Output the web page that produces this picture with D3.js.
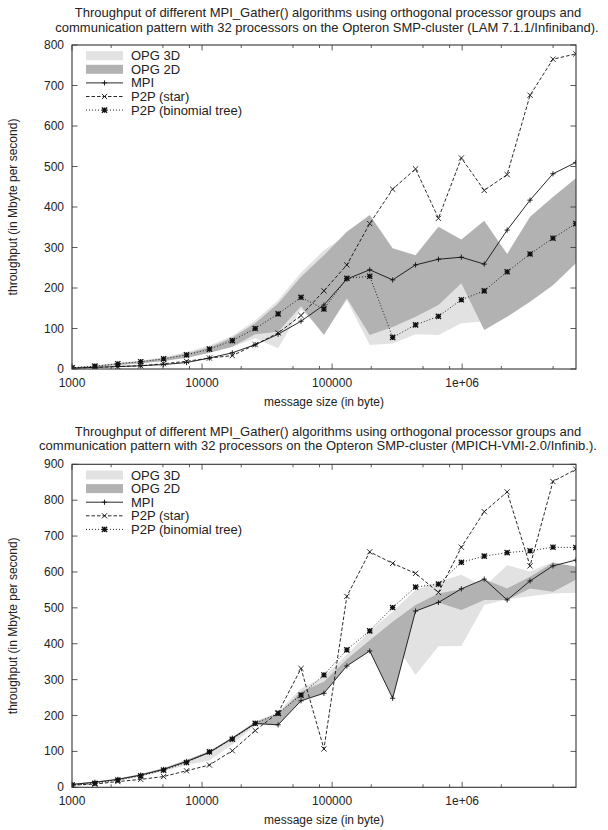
<!DOCTYPE html>
<html>
<head>
<meta charset="utf-8">
<script src="https://cdn.jsdelivr.net/npm/d3@7"></script>
<style>
  html, body { margin: 0; padding: 0; background: #fff; }
  svg { display: block; }
  text { font-family: "Liberation Sans", Arial, Helvetica, sans-serif; fill: #222; }
</style>
</head>
<body>
<svg id="chart" width="608" height="830"></svg>
<script>
// ---------- data ----------
const msgSizes = [1000, 1500, 2250, 3375, 5063, 7594, 11391, 17086, 25629, 38443, 57665, 86498,
  129746, 194620, 291929, 437894, 656841, 985261, 1477892, 2216838, 3325257, 4987885, 7481828];

const xMajorTicks = [1000, 10000, 100000, 1000000];
const xMajorLabels = ["1000", "10000", "100000", "1e+06"];
const xMinorTicks = [2000, 5000, 8000, 20000, 50000, 80000, 200000, 500000, 800000, 2000000, 5000000];

const lamYTicks = [0, 100, 200, 300, 400, 500, 600, 700, 800];
const mpichYTicks = [0, 100, 200, 300, 400, 500, 600, 700, 800, 900];

const seriesNames = ["OPG 3D", "OPG 2D", "MPI", "P2P (star)", "P2P (binomial tree)"];

const lamTitle = ["Throughput of different MPI_Gather() algorithms using orthogonal processor groups and",
  "communication pattern with 32 processors on the Opteron SMP-cluster (LAM 7.1.1/Infiniband)."];
const mpichTitle = ["Throughput of different MPI_Gather() algorithms using orthogonal processor groups and",
  "communication pattern with 32 processors on the Opteron SMP-cluster (MPICH-VMI-2.0/Infinib.)."];

// LAM 7.1.1 (top)
const lamMPI = [2, 4, 6, 8, 11, 16, 27, 40, 60, 86, 118, 158, 222, 245, 220, 257, 271, 276, 259, 343, 417, 482, 510];
const lamStar = [2, 4, 6, 8, 13, 19, 27, 33, 60, 89, 132, 193, 257, 359, 444, 494, 372, 521, 441, 480, 676, 765, 778];
const lamBinomial = [3, 7, 13, 18, 25, 35, 49, 70, 100, 136, 177, 148, 224, 229, 78, 109, 130, 171, 193, 240, 284, 323, 359];
const lamOpg2dLow = [2, 5, 10, 14, 20, 28, 40, 55, 86, 92, 155, 84, 175, 84, 104, 129, 158, 212, 96, 129, 166, 207, 261];
const lamOpg2dHigh = [4, 8, 14, 19, 27, 38, 53, 78, 113, 162, 228, 281, 339, 380, 298, 281, 351, 320, 366, 284, 376, 425, 471];
const lamOpg3dLow = [2, 5, 10, 14, 20, 28, 40, 55, 76, 51, 148, 88, 170, 59, 63, 86, 84, 113, 117, 140, 180, 220, 270];
const lamOpg3dHigh = [5, 9, 15, 21, 29, 42, 58, 82, 120, 170, 238, 293, 330, 360, 290, 270, 300, 260, 300, 270, 350, 400, 450];

// MPICH-VMI 2.0 (bottom)
const mpichMPI = [8, 14, 22, 34, 50, 72, 97, 137, 178, 174, 241, 262, 338, 380, 248, 491, 515, 553, 580, 522, 575, 617, 633];
const mpichStar = [6, 9, 16, 22, 30, 46, 62, 102, 158, 208, 331, 107, 532, 656, 624, 596, 543, 669, 768, 823, 617, 852, 886];
const mpichBinomial = [6, 11, 20, 32, 48, 69, 99, 134, 178, 206, 257, 313, 383, 436, 501, 558, 566, 627, 644, 654, 659, 669, 668];
const mpichOpg2dLow = [7, 13, 21, 33, 48, 70, 95, 134, 176, 174, 241, 262, 338, 380, 248, 491, 515, 494, 522, 522, 554, 545, 578];
const mpichOpg2dHigh = [10, 16, 24, 37, 53, 76, 101, 139, 182, 204, 266, 294, 357, 410, 461, 508, 540, 552, 580, 554, 587, 626, 615];
const mpichOpg3dLow = [7, 12, 19, 30, 45, 62, 75, 120, 172, 180, 245, 265, 340, 385, 410, 313, 393, 394, 508, 524, 532, 540, 542];
const mpichOpg3dHigh = [10, 16, 24, 37, 54, 77, 100, 140, 183, 210, 275, 308, 370, 434, 489, 550, 573, 592, 559, 619, 601, 628, 612];

// ---------- drawing ----------
const svg = d3.select("#chart");
svg.append("rect").attr("width", 608).attr("height", 830).attr("fill", "#fff");

const LIGHT = "#e2e2e2", DARK = "#b2b2b2", INK = "#111";
const FONT = 12, TITLE_FONT = 13, LEGEND_FONT = 13;

function markerPath(type, cx, cy, s) {
  const p = d3.path();
  if (type === "plus" || type === "star") {
    p.moveTo(cx - s, cy); p.lineTo(cx + s, cy);
    p.moveTo(cx, cy - s); p.lineTo(cx, cy + s);
  }
  if (type === "cross" || type === "star") {
    p.moveTo(cx - s, cy - s); p.lineTo(cx + s, cy + s);
    p.moveTo(cx - s, cy + s); p.lineTo(cx + s, cy - s);
  }
  return p.toString();
}

function drawChart(cfg) {
  const g = svg.append("g");
  const x = d3.scaleLog().domain([1000, 7.5e6]).range([72, 576]);
  const y = d3.scaleLinear().domain([0, cfg.yMax]).range([cfg.bottom, cfg.top]);
  const left = x.range()[0], right = x.range()[1];

  // title
  cfg.title.forEach((t, i) => {
    g.append("text").attr("x", cfg.titleX[i]).attr("y", cfg.titleY + i * 14.5)
      .attr("text-anchor", "middle").attr("dominant-baseline", "central")
      .attr("font-size", TITLE_FONT).text(t);
  });

  const clipId = "clip" + cfg.id;
  g.append("clipPath").attr("id", clipId).append("rect")
    .attr("x", left).attr("y", cfg.top).attr("width", right - left).attr("height", cfg.bottom - cfg.top);
  const plot = g.append("g").attr("clip-path", `url(#${clipId})`);

  const area = (lo, hi) => d3.area()
    .x((d, i) => x(msgSizes[i]))
    .y0((d, i) => y(lo[i]))
    .y1((d, i) => y(hi[i]))(msgSizes);

  plot.append("path").attr("d", area(cfg.o3lo, cfg.o3hi)).attr("fill", LIGHT);
  plot.append("path").attr("d", area(cfg.o2lo, cfg.o2hi)).attr("fill", DARK);

  const line = vals => d3.line().x((d, i) => x(msgSizes[i])).y((d, i) => y(vals[i]))(msgSizes);
  const series = [
    { vals: cfg.mpi, dash: null, mk: "plus" },
    { vals: cfg.star, dash: "3.5,2", mk: "cross" },
    { vals: cfg.bin, dash: "1,2", mk: "star" }
  ];
  series.forEach(s => {
    plot.append("path").attr("d", line(s.vals)).attr("fill", "none")
      .attr("stroke", INK).attr("stroke-width", 0.9)
      .attr("stroke-dasharray", s.dash);
    plot.append("g").selectAll("path").data(s.vals).join("path")
      .attr("d", (v, i) => markerPath(s.mk, x(msgSizes[i]), y(v), 2.6))
      .attr("fill", "none").attr("stroke", INK).attr("stroke-width", s.mk === "star" ? 1.3 : 0.9);
  });

  // ticks (inward, mirrored)
  const tk = g.append("g").attr("stroke", "#333").attr("stroke-width", 0.8);
  xMajorTicks.forEach(v => {
    const xx = x(v);
    tk.append("line").attr("x1", xx).attr("x2", xx).attr("y1", cfg.bottom).attr("y2", cfg.bottom - 5.5);
    tk.append("line").attr("x1", xx).attr("x2", xx).attr("y1", cfg.top).attr("y2", cfg.top + 5.5);
  });
  xMinorTicks.forEach(v => {
    const xx = x(v);
    tk.append("line").attr("x1", xx).attr("x2", xx).attr("y1", cfg.bottom).attr("y2", cfg.bottom - 3);
    tk.append("line").attr("x1", xx).attr("x2", xx).attr("y1", cfg.top).attr("y2", cfg.top + 3);
  });
  cfg.yTicks.forEach(v => {
    const yy = y(v);
    tk.append("line").attr("x1", left).attr("x2", left + 5.5).attr("y1", yy).attr("y2", yy);
    tk.append("line").attr("x1", right).attr("x2", right - 5.5).attr("y1", yy).attr("y2", yy);
  });

  // border
  g.append("rect").attr("x", left).attr("y", cfg.top).attr("width", right - left)
    .attr("height", cfg.bottom - cfg.top).attr("fill", "none").attr("stroke", "#333").attr("stroke-width", 1.1);

  // tick labels
  cfg.yTicks.forEach(v => {
    g.append("text").attr("x", left - 8).attr("y", y(v)).attr("text-anchor", "end")
      .attr("dominant-baseline", "central").attr("font-size", FONT).text(v);
  });
  xMajorTicks.forEach((v, i) => {
    g.append("text").attr("x", x(v)).attr("y", cfg.bottom + 14).attr("text-anchor", "middle")
      .attr("dominant-baseline", "central").attr("font-size", FONT).text(xMajorLabels[i]);
  });

  // axis titles
  g.append("text").attr("x", (left + right) / 2).attr("y", cfg.bottom + 33).attr("text-anchor", "middle")
    .attr("dominant-baseline", "central").attr("font-size", FONT).text("message size (in byte)");
  g.append("text").attr("transform", `translate(13,${(cfg.top + cfg.bottom) / 2}) rotate(-90)`)
    .attr("text-anchor", "middle").attr("dominant-baseline", "central").attr("font-size", FONT)
    .text("throughput (in Mbyte per second)");

  // legend
  const lg = g.append("g");
  const lx0 = 86, lx1 = 123, ltx = 131;
  seriesNames.forEach((name, i) => {
    const cy = cfg.top + 10.7 + i * 13.6;
    if (i === 0 || i === 1) {
      lg.append("rect").attr("x", lx0).attr("y", cy - 4.5).attr("width", lx1 - lx0).attr("height", 9)
        .attr("fill", i === 0 ? LIGHT : DARK);
    } else {
      const s = series[i - 2];
      lg.append("line").attr("x1", lx0).attr("x2", lx1).attr("y1", cy).attr("y2", cy)
        .attr("stroke", INK).attr("stroke-width", 0.9).attr("stroke-dasharray", s.dash);
      lg.append("path").attr("d", markerPath(s.mk, (lx0 + lx1) / 2, cy, 2.6))
        .attr("fill", "none").attr("stroke", INK).attr("stroke-width", s.mk === "star" ? 1.3 : 0.9);
    }
    lg.append("text").attr("x", ltx).attr("y", cy).attr("dominant-baseline", "central")
      .attr("font-size", LEGEND_FONT).text(name);
  });
}

drawChart({
  id: "lam", top: 45, bottom: 369, yMax: 800, yTicks: lamYTicks,
  title: lamTitle, titleX: [328, 327], titleY: 12.5,
  mpi: lamMPI, star: lamStar, bin: lamBinomial,
  o2lo: lamOpg2dLow, o2hi: lamOpg2dHigh, o3lo: lamOpg3dLow, o3hi: lamOpg3dHigh
});
drawChart({
  id: "mpich", top: 464.3, bottom: 787.3, yMax: 900, yTicks: mpichYTicks,
  title: mpichTitle, titleX: [328, 318], titleY: 431,
  mpi: mpichMPI, star: mpichStar, bin: mpichBinomial,
  o2lo: mpichOpg2dLow, o2hi: mpichOpg2dHigh, o3lo: mpichOpg3dLow, o3hi: mpichOpg3dHigh
});
</script>
</body>
</html>
